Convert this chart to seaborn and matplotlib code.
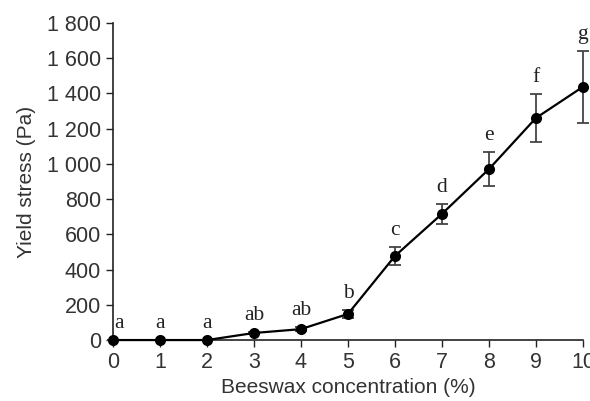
import numpy as np
import pandas as pd
import matplotlib
matplotlib.use("Agg")
import matplotlib.pyplot as plt
import seaborn as sns

# values
conc = [0, 1, 2, 3, 4, 5, 6, 7, 8, 9, 10]
stress = [0, 0, 0, 40, 62, 148, 477, 716, 970, 1260, 1437]
err = [0, 0, 0, 8, 10, 22, 50, 55, 95, 135, 205]
letters = ["a", "a", "a", "ab", "ab", "b", "c", "d", "e", "f", "g"]
yticks = [0, 200, 400, 600, 800, 1000, 1200, 1400, 1600, 1800]

df = pd.DataFrame({"conc": conc, "stress": stress, "err": err, "letter": letters})

sns.set_style("ticks")
plt.rcParams["font.family"] = ["Liberation Sans", "DejaVu Sans"]
text_col = "#333333"

fig = plt.figure(figsize=(5.9, 4.01), dpi=100)
ax = fig.add_axes([0.1915, 0.152, 0.7965, 0.791])

ax.errorbar(df["conc"], df["stress"], yerr=df["err"], fmt="none",
            ecolor="#444444", elinewidth=1.3, capsize=4, capthick=1.3,
            clip_on=False, zorder=2)
sns.lineplot(data=df, x="conc", y="stress", ax=ax, color="black",
             linewidth=1.6, marker="o", markersize=8, markeredgewidth=0,
             clip_on=False, zorder=3)

for _, r in df.iterrows():
    dx = 0.12 if r["conc"] == 0 else 0
    ax.text(r["conc"] + dx, r["stress"] + r["err"] + 40, r["letter"],
            ha="center", va="bottom", fontsize=15.5,
            family=["Liberation Serif", "DejaVu Serif"], color="#222222",
            clip_on=False)

ax.set_xlim(0, 10)
ax.set_ylim(0, 1800)
ax.set_xticks(conc)
ax.set_yticks(yticks)
ax.set_yticklabels([f"{v:,}".replace(",", " ") for v in yticks])
ax.tick_params(axis="both", labelsize=15.5, colors="#222222",
               labelcolor=text_col, length=5, width=1)
ax.set_xlabel("Beeswax concentration (%)", fontsize=15, color=text_col,
              labelpad=4)
ax.set_ylabel("Yield stress (Pa)", fontsize=15, color=text_col,
              labelpad=8)
sns.despine(ax=ax)
for s in ["left", "bottom"]:
    ax.spines[s].set_color("#222222")
    ax.spines[s].set_linewidth(1.2)

fig.savefig("out.png", dpi=100)
